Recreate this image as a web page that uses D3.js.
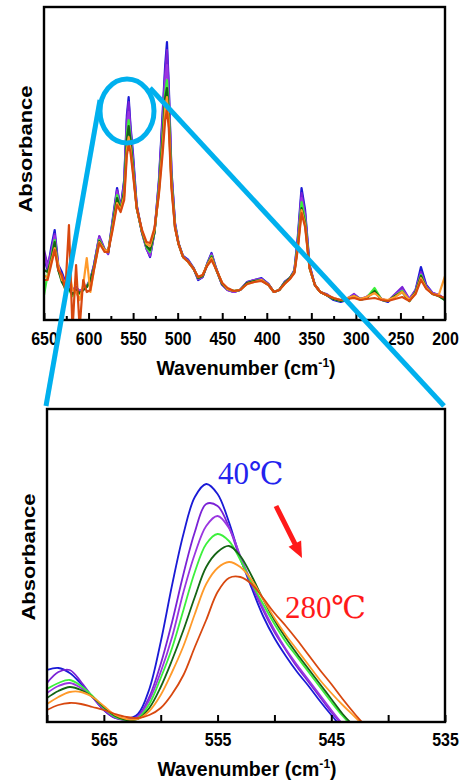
<!DOCTYPE html>
<html lang="en">
  <head>
    <meta charset="UTF-8" />
    <title>Absorbance vs wavenumber</title>
    <style>
      body { margin: 0; background: #fff; }
    </style>
  </head>
  <body>
    <div class="chart"></div>
    <script src="https://d3js.org/d3.v7.min.js"></script>
    <script>
      // ---- data: full spectrum (top panel), arbitrary absorbance units ----
      const wnFull = [650, 646, 642, 638, 634, 630, 626, 622, 618, 614, 610, 606, 602, 598, 594, 588, 582, 578, 573, 568,
        564, 560, 557, 555, 553, 550, 546, 540, 535, 531, 526, 521, 517, 514, 512, 510, 507, 503, 499, 494,
        488, 482, 477, 472, 467, 462, 457, 450, 444, 437, 430, 422, 414, 406, 398, 392, 386, 380, 374, 369,
        365, 361, 357, 352, 346, 340, 333, 325, 317, 310, 302, 295, 288, 279, 271, 264, 256, 248, 240, 233,
        227, 221, 214, 207, 200];

      const full40 = [62, 50, 72, 90, 55, 48, 38, 35, 30, 33, 28, 30, 33, 40, 55, 83, 70, 67, 100, 132,
        112, 140, 205, 223, 195, 165, 115, 88, 72, 63, 88, 140, 205, 255, 278, 235, 150, 97, 77, 64,
        60, 52, 40, 43, 56, 67, 52, 35, 30, 28, 30, 38, 40, 42, 36, 28, 30, 38, 42, 50,
        85, 132, 110, 55, 35, 28, 25, 20, 18, 20, 25, 20, 22, 30, 20, 18, 25, 32, 20, 30,
        53, 35, 27, 25, 20];
      const full80 = [70, 55, 68, 86, 52, 45, 36, 34, 31, 32, 29, 31, 34, 41, 54, 84, 71, 66, 98, 130,
        111, 138, 200, 218, 192, 160, 114, 87, 71, 64, 88, 138, 200, 248, 270, 230, 148, 96, 76, 64,
        59, 51, 41, 43, 56, 66, 52, 35, 30, 28, 30, 38, 40, 41, 36, 28, 30, 38, 42, 49,
        82, 127, 106, 54, 35, 28, 26, 21, 19, 21, 26, 21, 23, 29, 21, 19, 26, 33, 21, 30,
        48, 34, 27, 25, 21];
      const full120 = [66, 52, 66, 84, 50, 44, 36, 33, 30, 31, 29, 31, 34, 40, 53, 82, 70, 67, 97, 128,
        111, 134, 192, 208, 188, 157, 113, 87, 72, 65, 88, 135, 192, 240, 255, 222, 145, 95, 76, 63,
        59, 51, 41, 43, 55, 65, 51, 35, 30, 28, 30, 37, 40, 41, 35, 28, 30, 37, 42, 49,
        80, 122, 103, 53, 35, 28, 25, 21, 19, 21, 25, 21, 23, 28, 21, 19, 25, 30, 21, 29,
        46, 33, 27, 25, 21];
      const full160 = [25, 45, 62, 80, 50, 40, 30, 30, 24, 30, 26, 30, 33, 40, 52, 80, 70, 68, 95, 125,
        110, 130, 185, 200, 182, 152, 112, 88, 73, 68, 88, 132, 185, 228, 240, 212, 140, 94, 76, 63,
        58, 51, 42, 44, 55, 64, 51, 36, 31, 29, 30, 37, 39, 40, 35, 28, 30, 37, 42, 48,
        78, 118, 100, 52, 35, 28, 25, 21, 19, 21, 24, 20, 22, 32, 20, 19, 24, 29, 19, 28,
        45, 32, 26, 24, 20];
      const full200 = [50, 48, 60, 78, 50, 38, 32, 31, 26, 30, 27, 30, 33, 39, 52, 79, 70, 68, 94, 122,
        110, 128, 180, 194, 180, 150, 112, 88, 74, 70, 88, 130, 180, 222, 232, 207, 138, 93, 76, 63,
        58, 51, 42, 44, 55, 63, 51, 36, 31, 29, 30, 37, 39, 40, 35, 28, 30, 37, 42, 48,
        76, 112, 97, 52, 35, 28, 25, 21, 19, 21, 24, 21, 22, 29, 20, 19, 24, 28, 19, 28,
        44, 32, 26, 24, 20];
      const full240 = [45, 42, 58, 72, 55, 40, 38, 50, 30, 28, 20, 35, 62, 28, 50, 78, 70, 69, 92, 117,
        110, 124, 170, 183, 172, 147, 112, 89, 76, 74, 90, 128, 172, 212, 223, 200, 135, 93, 76, 63,
        58, 51, 43, 45, 55, 62, 51, 37, 31, 29, 30, 36, 38, 40, 35, 28, 30, 36, 41, 48,
        74, 110, 95, 52, 35, 28, 25, 22, 20, 22, 24, 21, 23, 27, 21, 20, 23, 28, 20, 27,
        42, 32, 26, 25, 44];
      const full280 = [40, 40, 55, 70, 50, 45, 30, 95, -10, 55, -8, 40, 28, 30, 50, 77, 68, 68, 90, 115,
        108, 120, 165, 175, 168, 145, 112, 90, 78, 77, 92, 126, 165, 200, 210, 192, 132, 92, 76, 63,
        58, 51, 43, 45, 54, 60, 51, 37, 32, 29, 30, 36, 38, 39, 35, 28, 30, 36, 41, 47,
        72, 107, 93, 52, 35, 28, 25, 22, 20, 21, 22, 20, 21, 22, 20, 19, 21, 23, 19, 26,
        40, 31, 26, 24, 22];

      // ---- data: zoom of the 555 band (bottom panel) ----
      const wnZoom = [570, 569, 568, 567, 566, 565, 564, 563, 562, 561, 560, 559, 558, 557, 556,
        555, 554, 553, 552, 551, 550, 549, 548, 547, 546, 545, 544, 543, 542];
      const zoom40 = [52, 54, 49, 38, 25, 12, 4, 3, 8, 33, 80, 137, 188, 225, 238, 228, 200, 164, 134, 106, 84, 66, 50, 36, 21, 7, -6, -15, -25];
      const zoom80 = [39, 50, 52, 40, 25, 12, 4, 2, 6, 25, 58, 100, 148, 190, 218, 216, 195, 163, 137, 112, 90, 72, 55, 40, 25, 10, -3, -13, -22];
      const zoom120 = [29, 36, 39, 34, 25, 13, 5, 2, 5, 22, 50, 85, 130, 168, 196, 206, 194, 166, 139, 114, 92, 73, 57, 42, 27, 12, -2, -12, -22];
      const zoom160 = [33, 39, 42, 36, 26, 14, 5, 2, 4, 18, 44, 74, 112, 150, 178, 188, 181, 162, 139, 118, 98, 80, 65, 50, 35, 20, 6, -6, -15];
      const zoom200 = [24, 31, 35, 32, 25, 15, 6, 2, 3, 14, 35, 62, 92, 125, 155, 170, 176, 166, 146, 123, 102, 84, 68, 53, 38, 23, 8, -4, -14];
      const zoom240 = [18, 25, 30, 30, 25, 16, 7, 3, 3, 11, 27, 50, 76, 108, 138, 154, 160, 155, 142, 123, 104, 87, 72, 57, 42, 29, 17, 6, -5];
      const zoom280 = [12, 17, 19, 18, 15, 12, 8, 5, 4, 7, 14, 28, 47, 75, 102, 130, 144, 145, 138, 124, 109, 96, 82, 67, 52, 38, 23, 9, -4];

      const temps = [40, 80, 120, 160, 200, 240, 280];
      const colors = ["#1a1ad6", "#7a22d6", "#9a36e0", "#3cf03c", "#146414", "#ff9a2a", "#d8480f"];
      const fullSeries = [full40, full80, full120, full160, full200, full240, full280];
      const zoomSeries = [zoom40, zoom80, zoom120, zoom160, zoom200, zoom240, zoom280];

      const fullTicks = [650, 600, 550, 500, 450, 400, 350, 300, 250, 200];
      const fullMinor = [625, 575, 525, 475, 425, 375, 325, 275, 225];
      const zoomTicks = [565, 555, 545, 535];
      const zoomMinor = [570, 560, 550, 540];

      const width = 464;
      const height = 780;
      const sans = "'Liberation Sans', Arial, sans-serif";
      const serif = "'Liberation Serif', 'Times New Roman', 'DejaVu Serif', serif";

      const svg = d3
        .select(".chart")
        .append("svg")
        .attr("width", width)
        .attr("height", height)
        .style("display", "block");

      // 畫一個面板
      function drawPanel(opt) {
        const x = d3.scaleLinear().domain(opt.xDomain).range([opt.left, opt.right]);
        const y = d3.scaleLinear().domain([0, 313]).range([opt.bottom, opt.top]);

        svg.append("clipPath").attr("id", opt.id)
          .append("rect")
          .attr("x", opt.left).attr("y", opt.top)
          .attr("width", opt.right - opt.left).attr("height", opt.bottom - opt.top);

        const line = d3.line()
          .x((d) => x(d[0]))
          .y((d) => y(d[1]))
          .curve(opt.curve);

        svg.append("g")
          .attr("clip-path", `url(#${opt.id})`)
          .selectAll("path")
          .data(opt.series)
          .join("path")
          .attr("d", (s) => line(opt.wn.map((w, i) => [w, s[i]])))
          .attr("fill", "none")
          .attr("stroke", (s, i) => colors[i])
          .attr("stroke-width", opt.lineWidth)
          .attr("stroke-linejoin", "round");

        // major ticks, inward
        const axis = svg.append("g")
          .attr("transform", `translate(0,${opt.bottom})`)
          .call(d3.axisBottom(x).tickValues(opt.ticks).tickSize(-7).tickPadding(opt.pad).tickFormat(d3.format("d")));
        axis.select(".domain").remove();
        axis.selectAll("line").attr("stroke", "#000").attr("stroke-width", 2);
        axis.selectAll("text")
          .attr("font-family", sans)
          .attr("font-weight", "bold")
          .attr("font-size", 19)
          .attr("fill", "#000")
          .attr("transform", "scale(0.84,1)");

        // minor ticks
        const minor = svg.append("g")
          .attr("transform", `translate(0,${opt.bottom})`)
          .call(d3.axisBottom(x).tickValues(opt.minor).tickSize(opt.minorSize).tickFormat(""));
        minor.select(".domain").remove();
        minor.selectAll("line").attr("stroke", "#000").attr("stroke-width", 2);

        // frame
        svg.append("rect")
          .attr("x", opt.left).attr("y", opt.top)
          .attr("width", opt.right - opt.left).attr("height", opt.bottom - opt.top)
          .attr("fill", "none").attr("stroke", "#000").attr("stroke-width", 2.4);

        // x title
        const xt = svg.append("text")
          .attr("transform", `translate(${opt.titleX},${opt.titleY}) scale(0.93,1)`)
          .attr("text-anchor", "middle")
          .attr("font-family", sans).attr("font-weight", "bold").attr("font-size", 21)
          .attr("fill", "#000");
        xt.append("tspan").text("Wavenumber (cm");
        xt.append("tspan").attr("font-size", 13).attr("dy", -8).text("-1");
        xt.append("tspan").attr("dy", 8).text(")");

        // y title
        svg.append("text")
          .attr("transform", `translate(${opt.yTitleX},${opt.yTitleY}) scale(0.84,1) rotate(-90)`)
          .attr("text-anchor", "middle")
          .attr("font-family", sans).attr("font-weight", "bold").attr("font-size", 22)
          .attr("fill", "#000")
          .text("Absorbance");

        return { x, y };
      }

      drawPanel({
        id: "clipFull", wn: wnFull, series: fullSeries, xDomain: [650, 200],
        left: 44, right: 445, top: 7, bottom: 320,
        ticks: fullTicks, minor: fullMinor, minorSize: -4, pad: 12,
        curve: d3.curveLinear, lineWidth: 2.2,
        titleX: 246, titleY: 375, yTitleX: 32, yTitleY: 149
      });

      drawPanel({
        id: "clipZoom", wn: wnZoom, series: zoomSeries, xDomain: [570, 535],
        left: 47, right: 445, top: 409, bottom: 722,
        ticks: zoomTicks, minor: zoomMinor, minorSize: -7, pad: 11,
        curve: d3.curveCatmullRom, lineWidth: 1.8,
        titleX: 247, titleY: 776, yTitleX: 35, yTitleY: 557
      });

      // temperature labels
      svg.append("text")
        .attr("x", 218).attr("y", 484)
        .attr("font-family", serif).attr("font-size", 31)
        .attr("fill", "#2323ee")
        .text(`${temps[0]}℃`);
      svg.append("text")
        .attr("x", 285).attr("y", 618)
        .attr("font-family", serif).attr("font-size", 31)
        .attr("fill", "#ff1a1a")
        .text(`${temps[temps.length - 1]}℃`);

      // red arrow
      const a0 = [276, 506], a1 = [302, 558];
      const len = Math.hypot(a1[0] - a0[0], a1[1] - a0[1]);
      const ux = (a1[0] - a0[0]) / len, uy = (a1[1] - a0[1]) / len;
      const bx = a1[0] - 16 * ux, by = a1[1] - 16 * uy;
      svg.append("line")
        .attr("x1", a0[0]).attr("y1", a0[1]).attr("x2", bx + 2 * ux).attr("y2", by + 2 * uy)
        .attr("stroke", "#ff1a1a").attr("stroke-width", 5);
      svg.append("path")
        .attr("d", `M${a1[0]},${a1[1]}L${bx - 7 * uy},${by + 7 * ux}L${bx + 7 * uy},${by - 7 * ux}Z`)
        .attr("fill", "#ff1a1a");

      // zoom marker: circle and connecting lines
      const cyan = "#00b0ee";
      svg.append("ellipse")
        .attr("cx", 127).attr("cy", 111).attr("rx", 27).attr("ry", 32)
        .attr("fill", "none").attr("stroke", cyan).attr("stroke-width", 5);
      svg.append("line")
        .attr("x1", 100).attr("y1", 100).attr("x2", 46).attr("y2", 406)
        .attr("stroke", cyan).attr("stroke-width", 5);
      svg.append("line")
        .attr("x1", 150).attr("y1", 88).attr("x2", 444).attr("y2", 406)
        .attr("stroke", cyan).attr("stroke-width", 5);
    </script>
  </body>
</html>
